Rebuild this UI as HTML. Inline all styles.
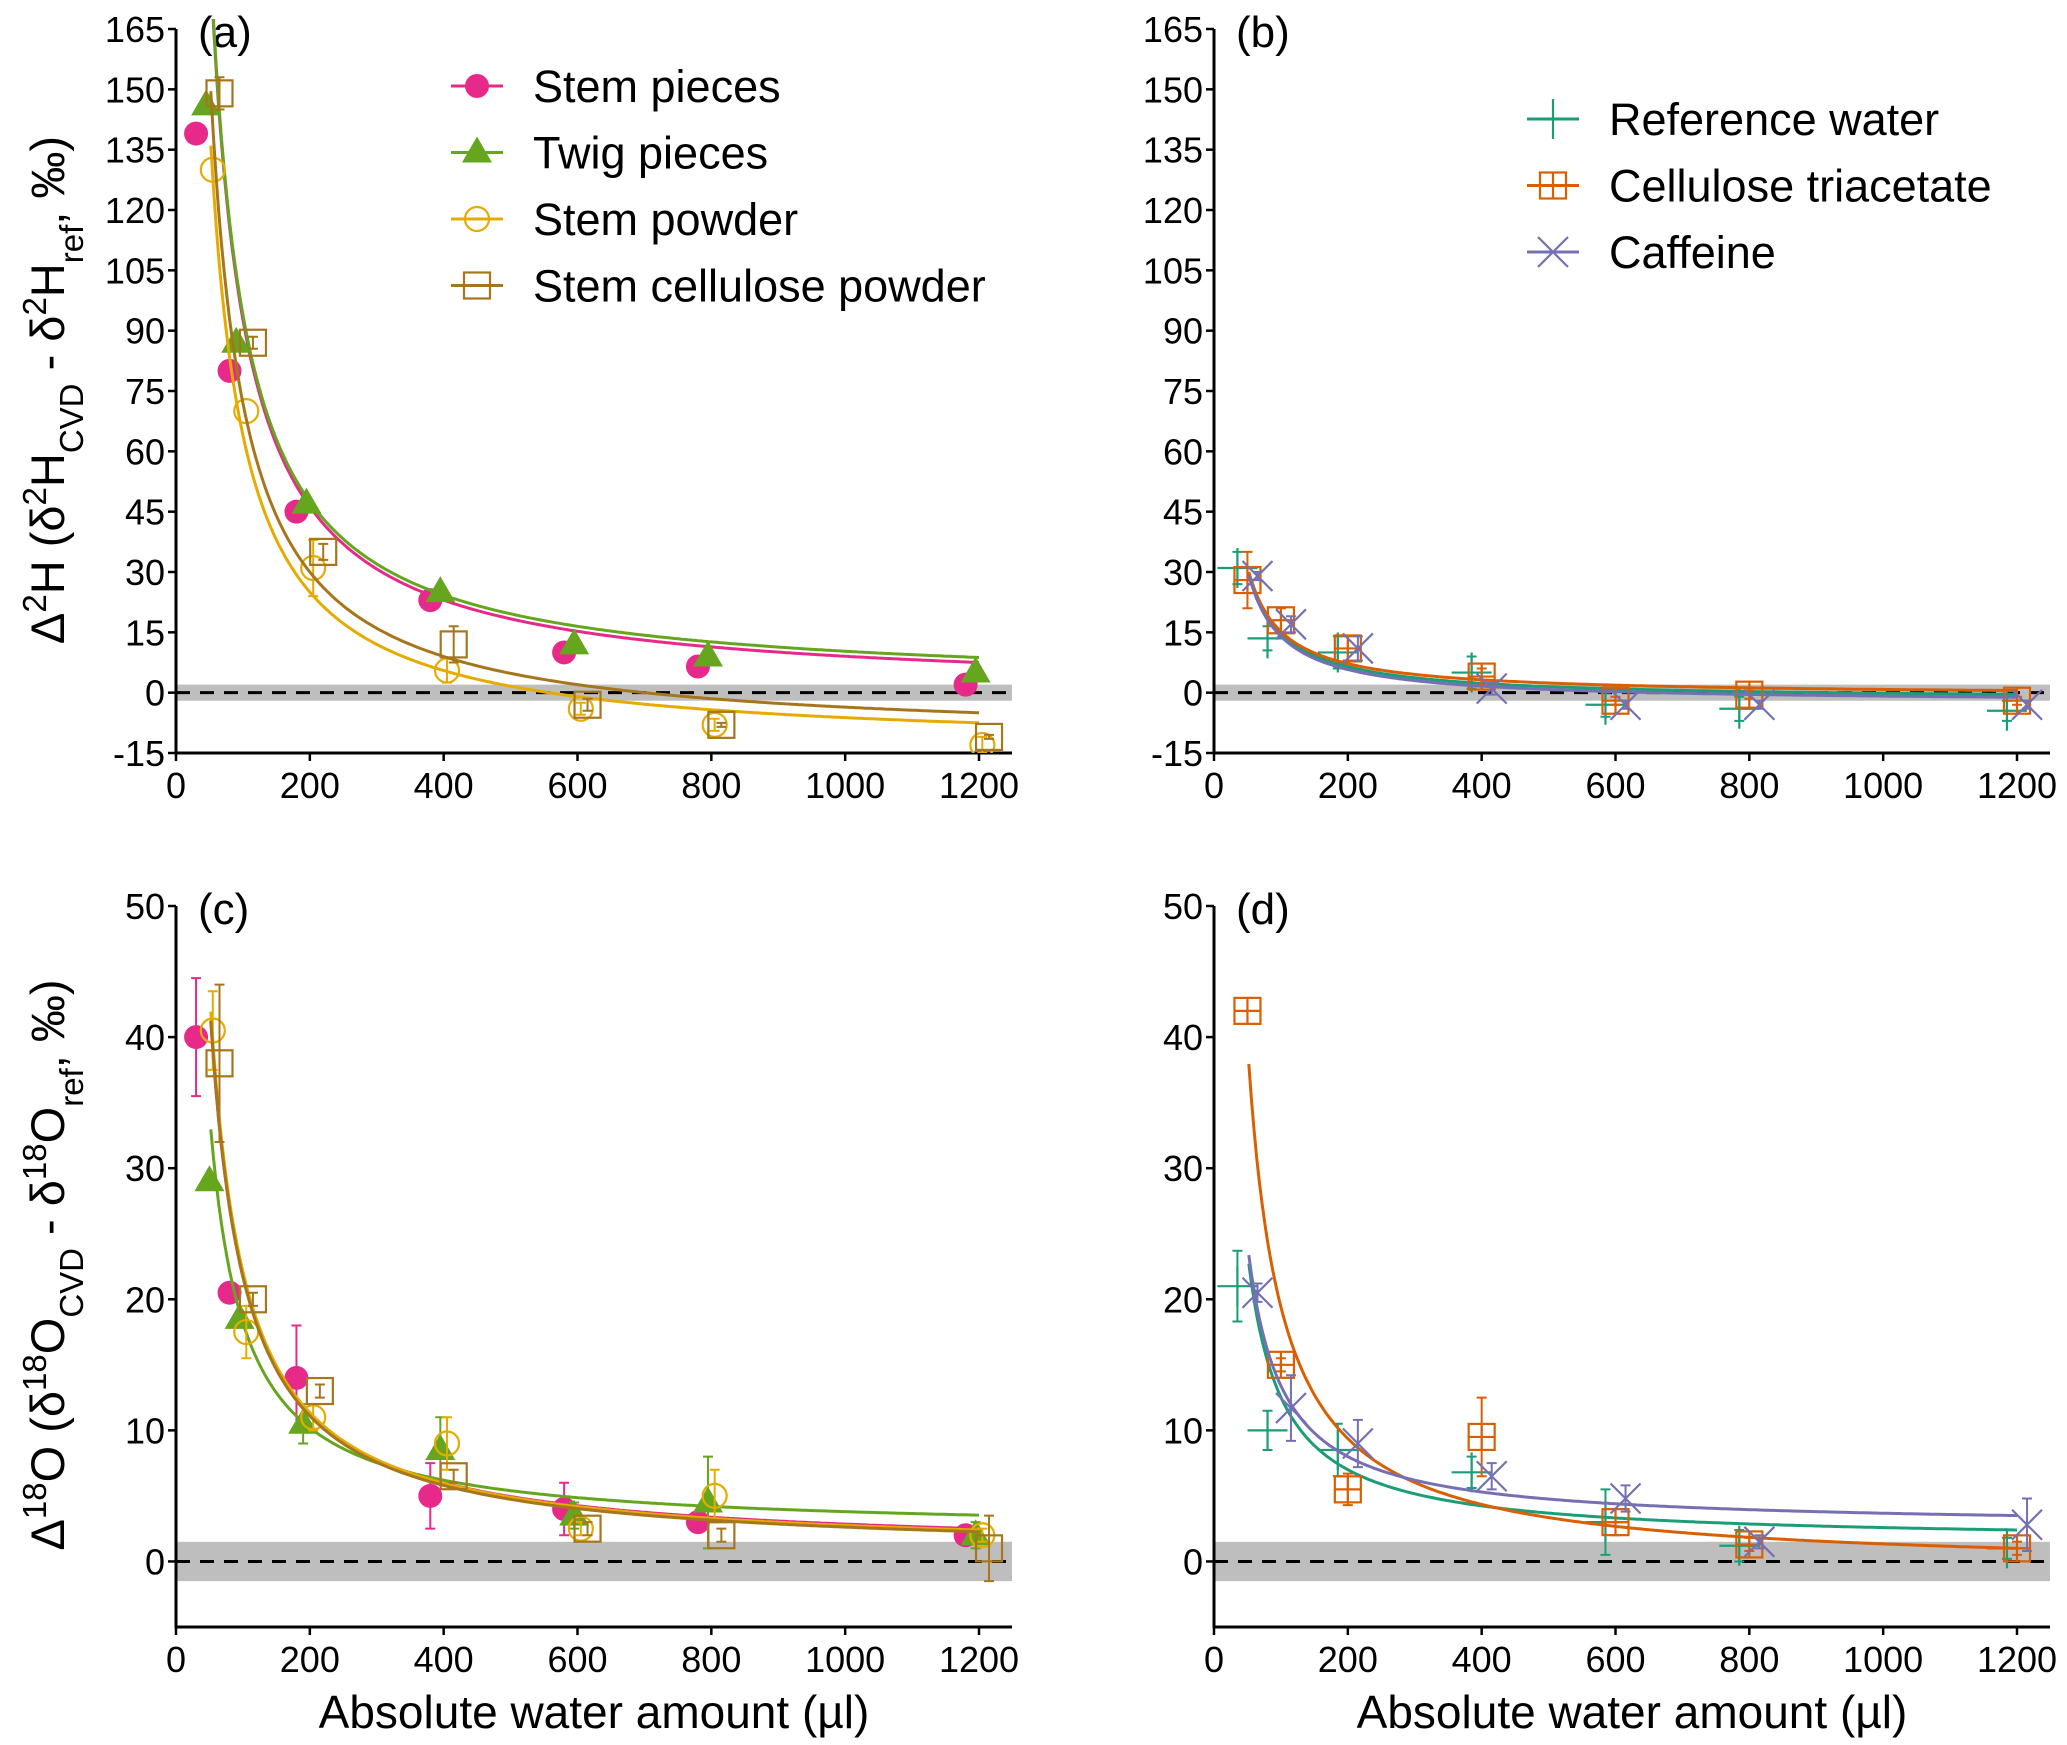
<!DOCTYPE html>
<html><head><meta charset="utf-8"><style>
html,body{margin:0;padding:0;background:#fff;}
svg{display:block;font-family:"Liberation Sans",Arial,sans-serif;}
</style></head><body>
<svg id="chart" width="2067" height="1745" viewBox="0 0 2067 1745" xmlns="http://www.w3.org/2000/svg"></svg>
<script>
// ---- categories / x values ----
const seriesNamesLeft = ["Stem pieces","Twig pieces","Stem powder","Stem cellulose powder"];
const seriesNamesRight = ["Reference water","Cellulose triacetate","Caffeine"];
const xTicks = [0,200,400,600,800,1000,1200];
const yTicksH = [-15,0,15,30,45,60,75,90,105,120,135,150,165];
const yTicksO = [0,10,20,30,40,50];

// ---- panel (a) d2H ----
const aPinkX = [30,80,180,380,580,780,1180];
const aPinkY = [139,80,45,23,10,6.5,2];
const aPinkE = [0,0,2,2,1.5,1.5,1.5];
const aGreenX = [45,90,195,395,595,795,1195];
const aGreenY = [146,87,47,25,12,9,5];
const aGreenE = [0,0,0,0,0,0,0];
const aYellowX = [55,105,205,405,605,805,1205];
const aYellowY = [130,70,31,5.5,-4,-8,-13];
const aYellowE = [0,0,7,3,1.5,1.5,2];
const aBrownX = [65,115,220,415,615,815,1215];
const aBrownY = [149,87,35,12,-3,-8,-11];
const aBrownE = [4,1.5,2,4.5,1.5,0.5,0.5];

// ---- panel (b) d2H ----
const bTealX = [35,80,185,385,585,785,1185];
const bTealY = [31,13.5,10,5,-3,-4,-4.5];
const bTealE = [4,3,4,4,3,3,2.5];
const bOrangeX = [50,100,200,400,600,800,1200];
const bOrangeY = [28,18,11,4,-2,-0.5,-2];
const bOrangeE = [7,3,3,2,1,1,1];
const bPurpleX = [65,115,215,415,615,815,1215];
const bPurpleY = [29,17,11,1,-3,-3,-3];
const bPurpleE = [1,2,3,1.5,1,1,1];

// ---- panel (c) d18O ----
const cPinkX = [30,80,180,380,580,780,1180];
const cPinkY = [40,20.5,14,5,4,3,2];
const cPinkE = [4.5,0.5,4,2.5,2,0.5,0.5];
const cGreenX = [50,95,190,395,595,795,1195];
const cGreenY = [29,18.5,10.5,8.5,3.5,4.5,2];
const cGreenE = [0.5,0.5,1.5,2.5,1,3.5,1];
const cYellowX = [55,105,205,405,605,805,1205];
const cYellowY = [40.5,17.5,11,9,2.5,5,2];
const cYellowE = [3,2,1,2,0.5,2,0.5];
const cBrownX = [65,115,215,415,615,815,1215];
const cBrownY = [38,20,13,6.5,2.5,2,1];
const cBrownE = [6,0.5,0.5,0.5,0.5,0.5,2.5];

// ---- panel (d) d18O ----
const dTealX = [35,80,185,385,585,785,1185];
const dTealY = [21,10,8.5,6.8,3,1.2,1];
const dTealE = [2.7,1.5,2,1.2,2.5,1.2,0.8];
const dOrangeX = [50,100,200,400,600,800,1200];
const dOrangeY = [42,15,5.5,9.5,3,1.3,1];
const dOrangeE = [0,0.5,1.2,3,1,0.5,0.5];
const dPurpleX = [65,115,215,415,615,815,1215];
const dPurpleY = [20.5,11.7,9,6.5,4.8,1.5,2.8];
const dPurpleE = [0.7,2.5,1.8,1,1,0.5,2];

// ---- fitted curve parameters y = a + b/x ----
const aCurveA = [-0.25,1,-14,-12];
const aCurveB = [9300,9300,7800,8400];
const bCurveA = [-1.8,-0.8,-2.5];
const bCurveB = [1650,1600,1650];
const cCurveA = [0.75,2.2,0.6,0.5];
const cCurveB = [2100,1600,2150,2120];
const dCurveA = [1.48,-0.67,2.6];
const dCurveB = [1104,2008,1080];

const COL = {pink:"#E7298A",green:"#66A61E",yellow:"#E6AB02",brown:"#A6761D",teal:"#1B9E77",orange:"#D95F02",purple:"#7570B3"};
const NS = "http://www.w3.org/2000/svg";
const svg = document.getElementById("chart");
function mk(tag, attrs, parent){const e=document.createElementNS(NS,tag);for(const k in attrs)e.setAttribute(k,attrs[k]);(parent||svg).appendChild(e);return e;}

function panel(id, x0, yBottom, yTopPx, yMin, yMax, yTicks, band){
  const g = mk("g",{});
  
  
  const kx = 803/1200;
  const ky = (yBottom - yTopPx)/(yMax - yMin);
  const P = {g, X:v=>x0+v*kx, Y:v=>yBottom-(v-yMin)*ky, x0, yBottom, yTopPx, xEnd:x0+836};
  const cid = "clip-"+id;
  const cp = mk("clipPath",{id:cid},g);
  mk("rect",{x:x0,y:yTopPx-10,width:836,height:yBottom-yTopPx+10},cp);
  P.clip = "url(#"+cid+")";
  const bandEl = mk("rect",{x:x0,y:P.Y(band),width:836,height:P.Y(-band)-P.Y(band),fill:"#bebebe"},g);
  
  
  const zl = mk("line",{x1:x0,x2:x0+836,y1:P.Y(0),y2:P.Y(0),stroke:"#000","stroke-width":3,"stroke-dasharray":"14 10"},g);
  
  
  const ya = mk("line",{x1:x0,x2:x0,y1:yTopPx,y2:yBottom,stroke:"#000","stroke-width":3},g);
  
  
  const xa = mk("line",{x1:x0-1.5,x2:x0+836,y1:yBottom,y2:yBottom,stroke:"#000","stroke-width":3},g);
  
  
  yTicks.forEach(t=>{
    mk("line",{x1:x0-8,x2:x0,y1:P.Y(t),y2:P.Y(t),stroke:"#000","stroke-width":2.5},g);
    const tx = mk("text",{x:x0-11,y:P.Y(t)+13,"text-anchor":"end","font-size":36,fill:"#000"},g);
    tx.textContent = t;
    
    
  });
  xTicks.forEach(t=>{
    mk("line",{x1:P.X(t),x2:P.X(t),y1:yBottom,y2:yBottom+8,stroke:"#000","stroke-width":2.5},g);
    const tx = mk("text",{x:P.X(t),y:yBottom+45,"text-anchor":"middle","font-size":36,fill:"#000"},g);
    tx.textContent = t;
    
    
  });
  const lab = mk("text",{x:x0+22,y:yTopPx+18,"font-size":44,fill:"#000"},g);
  lab.textContent = "("+id+")";
  
  
  return P;
}

function marker(parent, type, cx, cy, col){
  const s = 13;
  if(type==="circleF") mk("circle",{cx,cy,r:12,fill:col},parent);
  else if(type==="tri") mk("polygon",{points:`${cx},${cy-16} ${cx-15},${cy+10} ${cx+15},${cy+10}`,fill:col},parent);
  else if(type==="circleO") mk("circle",{cx,cy,r:12,fill:"none",stroke:col,"stroke-width":2.2},parent);
  else if(type==="square") mk("rect",{x:cx-s,y:cy-s,width:2*s,height:2*s,fill:"none",stroke:col,"stroke-width":2.2},parent);
  else if(type==="sqplus"){mk("rect",{x:cx-s,y:cy-s,width:2*s,height:2*s,fill:"none",stroke:col,"stroke-width":2.2},parent);
    mk("path",{d:`M${cx-s},${cy}H${cx+s}M${cx},${cy-s}V${cy+s}`,stroke:col,"stroke-width":2.2},parent);}
  else if(type==="plus") mk("path",{d:`M${cx-20},${cy}H${cx+20}M${cx},${cy-20}V${cy+20}`,stroke:col,"stroke-width":2.2},parent);
  else if(type==="cross") mk("path",{d:`M${cx-15},${cy-15}L${cx+15},${cy+15}M${cx-15},${cy+15}L${cx+15},${cy-15}`,stroke:col,"stroke-width":2.2},parent);
}

function series(P, name, xs, ys, es, col, type, ca, cb){
  const g = mk("g",{"clip-path":P.clip},P.g);
  
  
  let d="";
  for(let x=52;x<=1200;x+=4){const v=ca+cb/x;d+=(d?"L":"M")+P.X(x).toFixed(1)+","+P.Y(v).toFixed(1);}
  const line = mk("path",{d,fill:"none",stroke:col,"stroke-width":3},g);
  
  
  xs.forEach((x,i)=>{
    const cx=P.X(x), cy=P.Y(ys[i]);
    const pg = mk("g",{},g);
    
    
    marker(pg,type,cx,cy,col);
    if(es[i]>0){
      const y1=P.Y(ys[i]+es[i]), y2=P.Y(ys[i]-es[i]);
      mk("path",{d:`M${cx},${y1}V${y2}M${cx-5},${y1}H${cx+5}M${cx-5},${y2}H${cx+5}`,stroke:col,"stroke-width":2},pg);
    }
  });
}

function legend(items, x, y0, dy){
  const g = mk("g",{});
  
  
  items.forEach((it,i)=>{
    const y=y0+i*dy;
    const e = mk("g",{},g);
    
    
    mk("line",{x1:x-26,x2:x+26,y1:y,y2:y,stroke:it[1],"stroke-width":3},e);
    marker(e,it[2],x,y,it[1]);
    const t = mk("text",{x:x+56,y:y+16,"font-size":45,fill:"#000"},e);
    t.textContent = it[0];
  });
}

const A = panel("a",176,753,29,-15,165,yTicksH,2);
series(A,"stem-pieces",aPinkX,aPinkY,aPinkE,COL.pink,"circleF",aCurveA[0],aCurveB[0]);
series(A,"twig-pieces",aGreenX,aGreenY,aGreenE,COL.green,"tri",aCurveA[1],aCurveB[1]);
series(A,"stem-powder",aYellowX,aYellowY,aYellowE,COL.yellow,"circleO",aCurveA[2],aCurveB[2]);
series(A,"stem-cellulose-powder",aBrownX,aBrownY,aBrownE,COL.brown,"square",aCurveA[3],aCurveB[3]);

const B = panel("b",1214,753,29,-15,165,yTicksH,2);
series(B,"reference-water",bTealX,bTealY,bTealE,COL.teal,"plus",bCurveA[0],bCurveB[0]);
series(B,"cellulose-triacetate",bOrangeX,bOrangeY,bOrangeE,COL.orange,"sqplus",bCurveA[1],bCurveB[1]);
series(B,"caffeine",bPurpleX,bPurpleY,bPurpleE,COL.purple,"cross",bCurveA[2],bCurveB[2]);

const C = panel("c",176,1627,906,-5,50,yTicksO,1.5);
series(C,"stem-pieces",cPinkX,cPinkY,cPinkE,COL.pink,"circleF",cCurveA[0],cCurveB[0]);
series(C,"twig-pieces",cGreenX,cGreenY,cGreenE,COL.green,"tri",cCurveA[1],cCurveB[1]);
series(C,"stem-powder",cYellowX,cYellowY,cYellowE,COL.yellow,"circleO",cCurveA[2],cCurveB[2]);
series(C,"stem-cellulose-powder",cBrownX,cBrownY,cBrownE,COL.brown,"square",cCurveA[3],cCurveB[3]);

const D = panel("d",1214,1627,906,-5,50,yTicksO,1.5);
series(D,"reference-water",dTealX,dTealY,dTealE,COL.teal,"plus",dCurveA[0],dCurveB[0]);
series(D,"cellulose-triacetate",dOrangeX,dOrangeY,dOrangeE,COL.orange,"sqplus",dCurveA[1],dCurveB[1]);
series(D,"caffeine",dPurpleX,dPurpleY,dPurpleE,COL.purple,"cross",dCurveA[2],dCurveB[2]);

legend([[seriesNamesLeft[0],COL.pink,"circleF"],[seriesNamesLeft[1],COL.green,"tri"],[seriesNamesLeft[2],COL.yellow,"circleO"],[seriesNamesLeft[3],COL.brown,"square"]],477,86,66.5);
legend([[seriesNamesRight[0],COL.teal,"plus"],[seriesNamesRight[1],COL.orange,"sqplus"],[seriesNamesRight[2],COL.purple,"cross"]],1553,119,66.5);

// axis titles
function ytitle(cy, html, name){
  const t = mk("text",{x:0,y:0,"font-size":47,fill:"#000","text-anchor":"middle",transform:`translate(64,${cy}) rotate(-90)`});
  t.innerHTML = html;
  
  
}
ytitle(390,'Δ<tspan baseline-shift="super" font-size="33">2</tspan>H (δ<tspan baseline-shift="super" font-size="33">2</tspan>H<tspan baseline-shift="sub" font-size="33">CVD</tspan> - δ<tspan baseline-shift="super" font-size="33">2</tspan>H<tspan baseline-shift="sub" font-size="33">ref</tspan>, ‰)','y-axis-title-h');
ytitle(1265,'Δ<tspan baseline-shift="super" font-size="33">18</tspan>O (δ<tspan baseline-shift="super" font-size="33">18</tspan>O<tspan baseline-shift="sub" font-size="33">CVD</tspan> - δ<tspan baseline-shift="super" font-size="33">18</tspan>O<tspan baseline-shift="sub" font-size="33">ref</tspan>, ‰)','y-axis-title-o');
[[594,"x-axis-title-c"],[1632,"x-axis-title-d"]].forEach(p=>{
  const t = mk("text",{x:p[0],y:1728,"font-size":46,fill:"#000","text-anchor":"middle"});
  t.textContent = "Absolute water amount (µl)";
  
  
});
</script>
</body></html>
